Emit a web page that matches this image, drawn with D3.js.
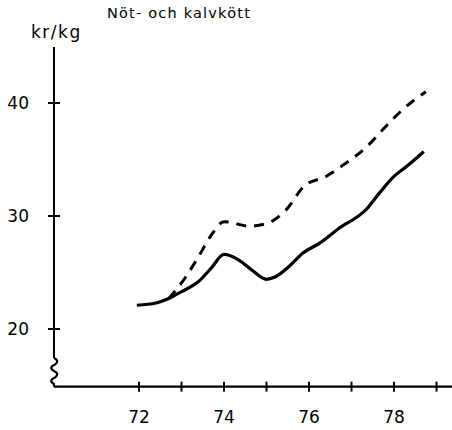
<!DOCTYPE html>
<html>
<head>
<meta charset="utf-8">
<script src="https://cdn.jsdelivr.net/npm/d3@7"></script>
<style>
  body { margin: 0; background: #fff; }
  text { font-family: "DejaVu Sans", sans-serif; fill: #000; }
</style>
</head>
<body>
<div id="chart"></div>
<script>
// data (year 19xx, kr per kg)
const years = [71.95, 72.4, 72.7, 73.0, 73.4, 73.7, 74.0, 74.35, 74.66, 75.0, 75.2, 75.55, 75.85, 76.25, 76.7, 77.35, 77.65, 78.0, 78.3, 78.7];
const solidValues = [22.1, 22.3, 22.7, 23.3, 24.2, 25.4, 26.6, 26.1, 25.2, 24.4, 24.6, 25.6, 26.7, 27.6, 28.9, 30.6, 32.0, 33.5, 34.4, 35.7];
const dashYears = [72.7, 73.1, 73.4, 73.7, 74.0, 74.6, 75.05, 75.45, 75.9, 76.4, 76.8, 77.35, 77.8, 78.2, 78.75];
const dashValues = [22.7, 24.6, 26.4, 28.3, 29.5, 29.1, 29.4, 30.5, 32.7, 33.5, 34.5, 36.1, 37.9, 39.4, 41.0];
const xTicks = [72, 73, 74, 75, 76, 77, 78, 79];
const xLabels = [72, 74, 76, 78];
const yTicks = [20, 30, 40];

const width = 452, height = 430;
const x = d3.scaleLinear().domain([70, 72]).range([54, 139]);
const y = d3.scaleLinear().domain([20, 30]).range([329, 216]);
const axisY = y(14.9);

const svg = d3.select("#chart").append("svg")
    .attr("width", width)
    .attr("height", height);

// y axis line (with break at the bottom)
svg.append("line")
    .attr("x1", x(70)).attr("x2", x(70))
    .attr("y1", 47).attr("y2", 358)
    .attr("stroke", "#000").attr("stroke-width", 2);

// break squiggle
const sq = d3.path();
sq.moveTo(x(70), 358);
let sy = 358;
for (let i = 0; i < 4; i++) {
    const dir = i % 2 === 0 ? 1 : -1;
    sq.quadraticCurveTo(x(70) + 6 * dir, sy + 3, x(70) + (dir > 0 ? 1 : 0), sy + 6.5);
    sy += 6.5;
}
sq.lineTo(x(70), axisY);
svg.append("path")
    .attr("d", sq.toString())
    .attr("fill", "none")
    .attr("stroke", "#000").attr("stroke-width", 2.2);

// x axis line
svg.append("line")
    .attr("x1", x(70)).attr("x2", width)
    .attr("y1", axisY).attr("y2", axisY)
    .attr("stroke", "#000").attr("stroke-width", 2.2);

// y ticks + labels
svg.selectAll(".ytick").data(yTicks).enter().append("line")
    .attr("x1", x(70) - 6).attr("x2", x(70) + 6)
    .attr("y1", d => y(d)).attr("y2", d => y(d))
    .attr("stroke", "#000").attr("stroke-width", 2);
svg.selectAll(".ylab").data(yTicks).enter().append("text")
    .attr("x", 29).attr("y", d => y(d) + 6)
    .attr("text-anchor", "end")
    .attr("font-size", 17)
    .text(d => d);

// x ticks + labels
svg.selectAll(".xtick").data(xTicks).enter().append("line")
    .attr("x1", d => x(d)).attr("x2", d => x(d))
    .attr("y1", axisY - 5).attr("y2", axisY + 5)
    .attr("stroke", "#000").attr("stroke-width", 2);
svg.selectAll(".xlab").data(xLabels).enter().append("text")
    .attr("x", d => x(d)).attr("y", 423)
    .attr("text-anchor", "middle")
    .attr("font-size", 17)
    .text(d => d);

// titles
svg.append("text")
    .attr("x", 31).attr("y", 38)
    .attr("font-size", 17)
    .attr("letter-spacing", 1.5)
    .text("kr/kg");
svg.append("text")
    .attr("x", 107).attr("y", 18)
    .attr("font-size", 14.5)
    .attr("letter-spacing", 1.2)
    .text("Nöt- och kalvkött");

const line = d3.line()
    .x(d => x(d[0]))
    .y(d => y(d[1]))
    .curve(d3.curveMonotoneX);

svg.append("path")
    .attr("d", line(d3.zip(dashYears, dashValues)))
    .attr("fill", "none")
    .attr("stroke", "#000").attr("stroke-width", 3)
    .attr("stroke-dasharray", "10,8");

svg.append("path")
    .attr("d", line(d3.zip(years, solidValues)))
    .attr("fill", "none")
    .attr("stroke", "#000").attr("stroke-width", 3.2)
    .attr("stroke-linejoin", "round");
</script>
</body>
</html>
